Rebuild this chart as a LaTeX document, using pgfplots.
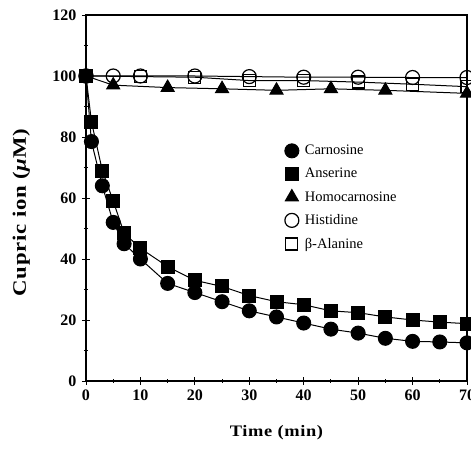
\documentclass[border=0pt]{standalone}
\usepackage{fontspec}
\setmainfont{Liberation Serif}
\usepackage{pgfplots}
\pgfplotsset{compat=1.18}

\begin{document}
\begin{tikzpicture}
\begin{axis}[
  scale only axis,
  width=381pt, height=366pt,
  xmin=0, xmax=70, ymin=0, ymax=120,
  xtick={0,10,...,70}, ytick={0,20,...,120},
  minor tick num=1,
  tick align=center,
  major tick length=8pt, minor tick length=4pt,
  xtick pos=bottom, ytick pos=left,
  axis line style={line width=1.1pt},
  tick style={line width=0.9pt, black},
  /pgf/number format/assume math mode=true,
  tick label style={font=\fontsize{16}{18}\selectfont\bfseries},
  xticklabel style={yshift=-1pt},
  yticklabel style={xshift=-2pt},
  xlabel={\fontsize{16}{19}\selectfont\bfseries\addfontfeatures{FakeStretch=1.15,LetterSpace=4}Time (min)},
  xlabel style={at={(axis description cs:0.5,-0.142)}, anchor=center},
  ylabel={\fontsize{19}{22}\selectfont\bfseries\addfontfeatures{FakeStretch=1.2,LetterSpace=4}Cupric ion ({\itshape μ}M)},
  ylabel style={at={(axis description cs:-0.17,0.46)}, anchor=center},
  legend style={draw=none, fill=none, at={(axis cs:36.5,78)}, anchor=north west,
    font=\fontsize{14.5}{17}\selectfont, cells={anchor=west}, row sep=8pt,
    inner sep=0pt, /tikz/every odd column/.append style={column sep=4pt}},
  legend image code/.code={\draw[#1] plot[only marks] coordinates {(0.1cm,0cm)};},
  every axis plot/.append style={black, line width=1pt},
]
% Carnosine (filled circle)
\addplot[mark=*, mark size=7] coordinates {
  (0,100) (1,78.5) (3,64) (5,52) (7,45) (10,40) (15,32) (20,29) (25,26) (30,23)
  (35,21) (40,19) (45,17) (50,15.7) (55,14) (60,13) (65,12.8) (70,12.5)
};
% Anserine (filled square)
\addplot[mark=square*, mark size=6.5] coordinates {
  (0,100) (1,85) (3,69) (5,59) (7,48.5) (10,43.5) (15,37.5) (20,33) (25,31) (30,28)
  (35,26) (40,25) (45,23) (50,22.4) (55,21) (60,20) (65,19.3) (70,18.8)
};
% Homocarnosine (filled triangle)
\addplot[mark=triangle*, mark size=7.5] coordinates {
  (0,100) (5,97) (15,96.2) (25,95.8) (35,95.3) (45,95.8) (55,95.3) (70,94.3)
};
% Histidine (open circle)
\addplot[mark=o, mark size=7, mark options={fill=white, line width=1.2pt}] coordinates {
  (0,100) (5,100) (10,100) (20,100) (30,99.8) (40,99.6) (50,99.6) (60,99.5) (70,99.5)
};
% beta-Alanine (open square)
\addplot[mark=square, mark size=6, mark options={fill=white, line width=1.2pt}] coordinates {
  (0,100) (10,99.8) (20,99.6) (30,98.5) (40,98.5) (50,98) (60,97.3) (70,96.5)
};
\legend{Carnosine, Anserine, Homocarnosine, Histidine, β-Alanine}
\end{axis}
\pgfresetboundingbox
\path[use as bounding box] ([xshift=-86pt,yshift=-68pt]current axis.south west)
  rectangle ([xshift=4pt,yshift=15pt]current axis.north east);
\end{tikzpicture}
\end{document}
